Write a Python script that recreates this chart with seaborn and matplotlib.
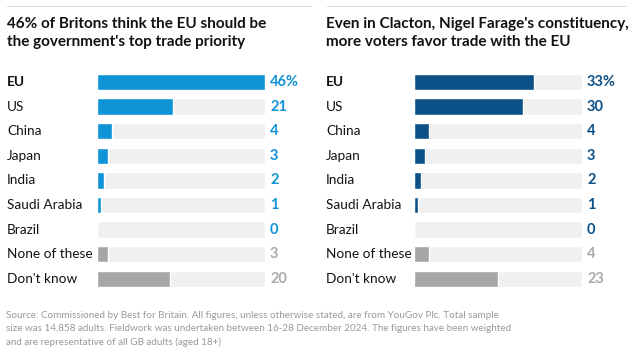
import pandas as pd
import seaborn as sns
import matplotlib.pyplot as plt
from matplotlib.transforms import blended_transform_factory

categories = ["EU", "US", "China", "Japan", "India", "Saudi Arabia", "Brazil", "None of these", "Don't know"]
britain = [46, 21, 4, 3, 2, 1, 0, 3, 20]
clacton = [33, 30, 4, 3, 2, 1, 0, 4, 23]
value_labels_gb = ["46%", "21", "4", "3", "2", "1", "0", "3", "20"]
value_labels_cl = ["33%", "30", "4", "3", "2", "1", "0", "4", "23"]
titles = ["46% of Britons think the EU should be\nthe government's top trade priority",
          "Even in Clacton, Nigel Farage's constituency,\nmore voters favor trade with the EU"]
source = ("Source: Commissioned by Best for Britain. All figures, unless otherwise stated, are from YouGov Plc. Total sample\n"
          "size was 14,858 adults. Fieldwork was undertaken between 16-28 December 2024. The figures have been weighted\n"
          "and are representative of all GB adults (aged 18+)")

track_max = max(max(britain), max(clacton))

sns.set_style("white")
plt.rcParams['font.family'] = ['Lato', 'DejaVu Sans']

W, H = 643, 362
fig = plt.figure(figsize=(W / 100, H / 100), dpi=100)

panels = [
    dict(vals=britain, labels=value_labels_gb, color="#0f93d7", title=titles[0],
         x0=7, bar_left=97, rule=(7, 311)),
    dict(vals=clacton, labels=value_labels_cl, color="#0b5087", title=titles[1],
         x0=326, bar_left=414, rule=(327, 626)),
]

row_h = 24.6
top = 82 - row_h / 2
ax_h = row_h * len(categories)
ax_w = 167.5
gray_bar = "#a6a6a6"
gray_txt = "#aaaaaa"

for p in panels:
    ax = fig.add_axes([p["bar_left"] / W, 1 - (top + ax_h) / H, ax_w / W, ax_h / H])
    df = pd.DataFrame({"cat": categories, "val": p["vals"], "track": [track_max] * len(categories)})
    sns.barplot(data=df, y="cat", x="track", color="#f0f0f0", width=0.66, ax=ax, saturation=1)
    colors = [p["color"]] * 7 + [gray_bar, gray_bar]
    sns.barplot(data=df, y="cat", x="val", hue="cat", palette=colors, legend=False,
                width=0.66, ax=ax, saturation=1)
    ax.set_xlim(0, track_max)
    ax.set_ylim(len(categories) - 0.5, -0.5)
    ax.axis("off")

    trans = blended_transform_factory(fig.transFigure, ax.transData)
    for i, cat in enumerate(categories):
        ax.text(p["x0"] / W, i, cat, transform=trans, ha="left", va="center",
                fontsize=9.8, color="#121212", fontweight="bold" if i == 0 else "normal")
        c = p["color"] if i < 7 else gray_txt
        ax.annotate(p["labels"][i], xy=(track_max, i), xytext=(4, 0), textcoords="offset points",
                    ha="left", va="center", fontsize=10.5, fontweight="bold", color=c)

    fig.text(p["x0"] / W, 1 - 17 / H, p["title"], ha="left", va="top",
             fontsize=11.0, fontweight="bold", color="#121212", linespacing=1.35)
    fig.add_artist(plt.Line2D([p["rule"][0] / W, p["rule"][1] / W], [1 - 6 / H, 1 - 6 / H],
                              color="#dcdcdc", lw=0.8))

fig.text(6 / W, 1 - 311 / H, source, ha="left", va="top", fontsize=7.1,
         color="#999999", linespacing=1.6, family=["Liberation Sans Narrow", "Lato"])

plt.savefig("out.png", dpi=100)
